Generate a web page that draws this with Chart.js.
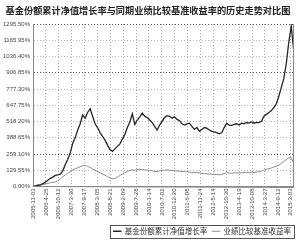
<!DOCTYPE html>
<html>
<head>
<meta charset="utf-8">
<script src="https://cdn.jsdelivr.net/npm/chart.js@4"></script>
<style>
  html, body { margin: 0; padding: 0; background: #fff; }
</style>
</head>
<body>
<canvas id="chart" width="300" height="246"></canvas>
<script>
const titleText = "基金份额累计净值增长率与同期业绩比较基准收益率的历史走势对比图";
const fundLabel = "基金份额累计净值增长率";
const benchLabel = "业绩比较基准收益率";

// tick labels on the date axis
const xLabels = [
    "2005-11-03", "2006-4-25", "2006-10-12", "2007-3-30", "2007-9-17",
    "2008-3-05", "2008-8-21", "2009-2-09", "2009-7-28", "2010-1-14",
    "2010-7-02", "2010-12-20", "2011-6-08", "2011-11-24", "2012-5-14",
    "2012-10-30", "2013-4-19", "2013-10-08", "2014-3-27", "2014-9-12",
    "2015-3-03"
];
const yTicks = [0, 129.55, 259.10, 388.65, 518.20, 647.75, 777.30, 906.85, 1036.40, 1165.95, 1295.50];
const darkYTicks = [259.10, 906.85, 1295.50];

// cumulative return (%), one value per step
const fundValues = [
    0, 5, 10, 15, 23, 35, 50, 65, 75, 88,
    92, 98, 125, 175, 215, 270, 345, 390, 450, 500,
    570, 545, 590, 620, 560, 500, 470, 430, 400, 370,
    330, 295, 280, 300, 320, 340, 380, 415, 470, 515,
    580, 495, 530, 555, 585, 560, 550, 530, 510, 480,
    450, 490, 520, 550, 565, 560, 545, 555, 535, 525,
    500, 490, 500, 505, 480, 455, 470, 440, 455, 470,
    465, 450, 440, 435, 430, 420, 428, 470, 505, 490,
    488, 495, 500, 490, 505, 500, 510, 505, 515, 505,
    512, 510, 520, 560, 575, 590, 605, 630, 660, 720,
    790, 860, 980, 1150, 1280, 1080
];
const benchValues = [
    0, 3, 6, 10, 15, 20, 25, 30, 33, 37,
    45, 60, 78, 92, 105, 120, 132, 140, 150, 158,
    165, 168, 160, 152, 140, 130, 118, 110, 100, 90,
    78, 68, 62, 65, 75, 88, 100, 110, 120, 128,
    132, 130, 135, 138, 135, 132, 130, 128, 125, 120,
    118, 125, 128, 130, 132, 130, 128, 128, 124, 122,
    120, 118, 118, 115, 112, 110, 112, 108, 105, 103,
    102, 100, 98, 96, 95, 94, 96, 105, 110, 108,
    106, 108, 110, 108, 110, 112, 112, 110, 114, 112,
    115, 118, 122, 132, 138, 142, 148, 155, 162, 170,
    185, 200, 215, 228, 230, 185
];

const tickStep = 5.19;

// box round the legend, as in the printed report
const legendBorder = {
    id: "legendBorder",
    afterDraw(chart) {
        const boxes = chart.legend.legendHitBoxes;
        if (!boxes || !boxes.length) return;
        let left = Infinity, right = -Infinity, top = Infinity, bottom = -Infinity;
        boxes.forEach(b => {
            left = Math.min(left, b.left);
            right = Math.max(right, b.left + b.width);
            top = Math.min(top, b.top);
            bottom = Math.max(bottom, b.top + b.height);
        });
        const ctx = chart.ctx;
        ctx.save();
        ctx.strokeStyle = "#555";
        ctx.lineWidth = 1;
        ctx.strokeRect(Math.round(left - 4) + 0.5, Math.round(top - 3) + 0.5,
            Math.round(right - left + 7), Math.round(bottom - top + 5));
        ctx.restore();
    }
};

const frame = {
    id: "frame",
    afterDraw(chart) {
        const a = chart.chartArea, ctx = chart.ctx;
        ctx.save();
        ctx.strokeStyle = "#888";
        ctx.lineWidth = 1;
        ctx.beginPath();
        ctx.moveTo(Math.round(a.left) + 0.5, a.top);
        ctx.lineTo(Math.round(a.left) + 0.5, a.bottom);
        ctx.lineTo(a.right, Math.round(a.bottom) + 0.5);
        ctx.moveTo(Math.round(a.right) - 0.5, a.top);
        ctx.lineTo(Math.round(a.right) - 0.5, a.bottom);
        ctx.stroke();
        ctx.restore();
    }
};

new Chart(document.getElementById("chart").getContext("2d"), {
    type: "line",
    data: {
        datasets: [
            {
                label: fundLabel,
                data: fundValues.map((v, i) => ({ x: i, y: v })),
                borderColor: "#262626",
                borderWidth: 1.3,
                pointRadius: 0,
                tension: 0
            },
            {
                label: benchLabel,
                data: benchValues.map((v, i) => ({ x: i, y: v })),
                borderColor: "#8c8c8c",
                borderWidth: 1,
                pointRadius: 0,
                tension: 0
            }
        ]
    },
    options: {
        responsive: false,
        animation: false,
        layout: { padding: { left: 0, right: 4, top: 0, bottom: 1 } },
        plugins: {
            title: {
                display: true,
                text: titleText,
                color: "#222",
                font: { family: "'Noto Sans CJK SC'", size: 9.2, weight: "bold" },
                padding: { top: 5, bottom: 8 }
            },
            legend: {
                position: "bottom",
                align: "end",
                labels: {
                    usePointStyle: true,
                    pointStyle: "line",
                    boxWidth: 28,
                    boxHeight: 6,
                    padding: 5,
                    color: "#333",
                    font: { family: "'Noto Sans CJK SC'", size: 7.5 }
                }
            },
            tooltip: { enabled: false }
        },
        scales: {
            x: {
                type: "linear",
                min: 0,
                max: fundValues.length - 1,
                afterBuildTicks(scale) {
                    scale.ticks = xLabels.map((_, i) => ({ value: i * tickStep }));
                },
                afterFit(scale) { scale.height = 36; },
                ticks: {
                    autoSkip: false,
                    maxRotation: 90,
                    minRotation: 90,
                    padding: 2,
                    color: "#444",
                    font: { family: "'Liberation Sans'", size: 6 },
                    callback: (v, i) => xLabels[i]
                },
                grid: { color: "#a8a8a8", lineWidth: 1, drawTicks: false },
                border: { display: true, color: "#888", dash: [1, 2] }
            },
            y: {
                min: 0,
                max: 1295.5,
                afterBuildTicks(scale) {
                    scale.ticks = yTicks.map(v => ({ value: v }));
                },
                afterFit(scale) { scale.width = 33; },
                ticks: {
                    padding: 3,
                    color: "#444",
                    font: { family: "'Liberation Sans'", size: 6 },
                    callback: v => v.toFixed(2) + "%"
                },
                grid: {
                    drawTicks: false,
                    lineWidth: 1,
                    color: ctx => darkYTicks.includes(ctx.tick && ctx.tick.value) ? "#555" : "#b5b5b5"
                },
                border: { display: true, color: "#777", dash: [1, 2] }
            }
        }
    },
    plugins: [legendBorder, frame]
});
</script>
</body>
</html>
